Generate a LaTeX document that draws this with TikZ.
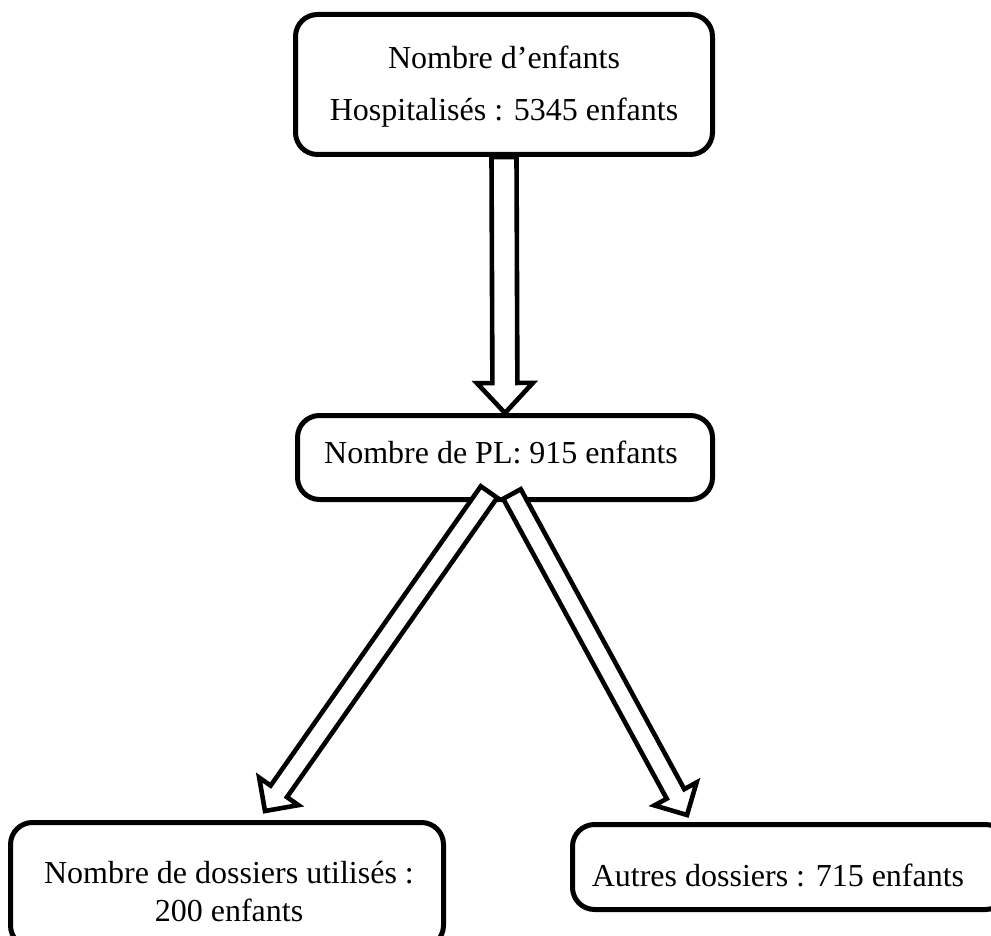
\documentclass[tikz,border=0pt]{standalone}
\usepackage{fontspec}
\setmainfont{Liberation Serif}
\usetikzlibrary{calc}
\tikzset{
  box/.style={draw, line width=2.5pt, rounded corners=11pt, fill=white},
  txt/.style={inner sep=0pt, font=\fontsize{16}{19}\selectfont},
  arrowline/.style={draw, line width=2.3pt, fill=white, line join=miter},
}
% #1 tail, #2 tip, #3 shaft half-width, #4 head half-width, #5 head length, #6 name
\newcommand\myblockarr[6]{%
  \coordinate (#6h) at ($(#2)!#5!(#1)$);
  \draw[arrowline] ($(#1)!#3!90:(#2)$) -- ($(#6h)!#3!90:(#2)$) -- ($(#6h)!#4!90:(#2)$)
    -- (#2) -- ($(#6h)!#4!-90:(#2)$) -- ($(#6h)!#3!-90:(#2)$) -- ($(#1)!#3!-90:(#2)$) -- cycle;}
\begin{document}
\begin{tikzpicture}[x=0.5pt,y=-0.5pt]
\useasboundingbox (0,0) rectangle (991,936);
\clip (0,0) rectangle (991,936);
% boxes
\node[box, minimum width=208.5pt, minimum height=70pt] (top) at (504,84.5) {};
\node[txt, anchor=base] (top1) at (504,69) {Nombre d’enfants};
\node[txt, anchor=base] (top2) at (504,121) {Hospitalisés : 5345 enfants};
\node[box, minimum width=207.5pt, minimum height=42pt] (mid) at (505,457.5) {};
\node[txt, anchor=base] (midt) at (501,463) {Nombre de PL: 915 enfants};
\node[box, minimum width=216.5pt, minimum height=62.5pt] (bl) at (227,885) {};
\node[txt, anchor=base] (bl1) at (229,883) {Nombre de dossiers utilisés :};
\node[txt, anchor=base] (bl2) at (229,921) {200 enfants};
\node[box, minimum width=217.5pt, minimum height=42.5pt] (br) at (790,867) {};
\node[txt, anchor=base] (brt) at (778,886) {Autres dossiers : 715 enfants};
% arrow end points
\coordinate (a1s) at (top.south);
\coordinate (a1e) at (mid.north);
\coordinate (a2s) at ($(mid.south)+(-16,-10)$);
\coordinate (a2e) at ($(bl.north)+(38,-9)$);
\coordinate (a3s) at ($(mid.south)+(7,-8)$);
\coordinate (a3e) at ($(br.north)+(-103,-7)$);
% block arrows
\myblockarr{a1s}{a1e}{6.25pt}{14pt}{15pt}{arrA}
\myblockarr{a2s}{a2e}{5pt}{12pt}{12pt}{arrB}
\myblockarr{a3s}{a3e}{5pt}{12pt}{12pt}{arrC}
\end{tikzpicture}
\end{document}
